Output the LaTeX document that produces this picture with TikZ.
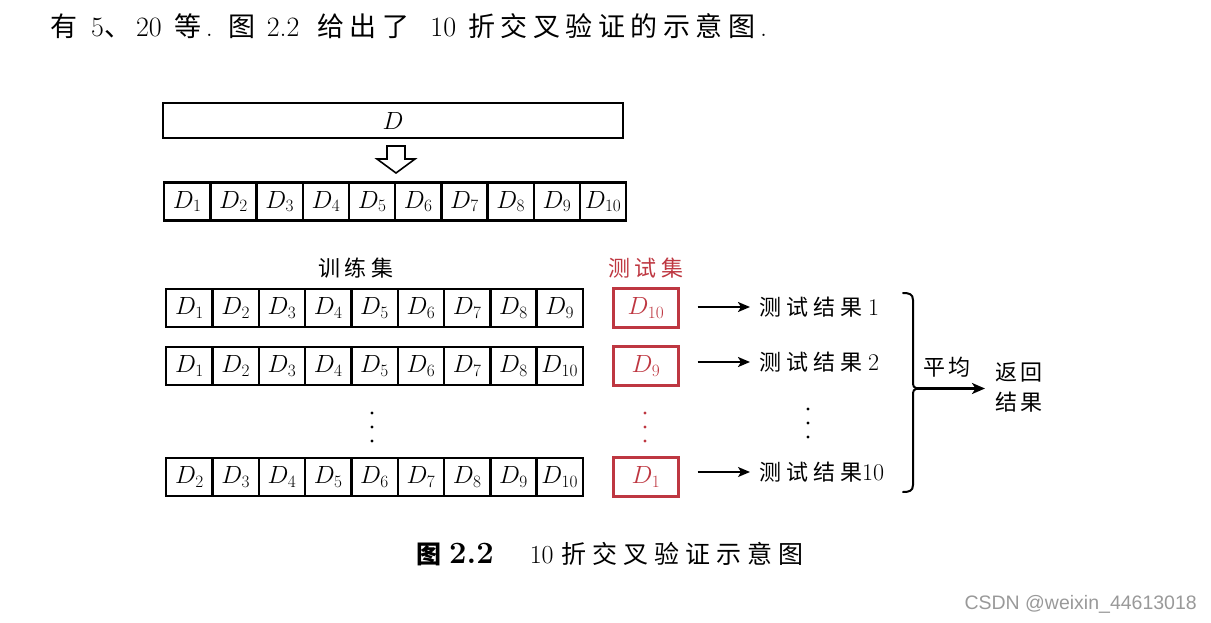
\documentclass[tikz,border=0pt]{standalone}
\usepackage{fontspec}
\newfontfamily\cjk{Noto Sans CJK SC}
\newfontfamily\wm{Liberation Sans}
\usetikzlibrary{decorations.pathreplacing,arrows.meta}
\makeatletter
\newcommand\spc[2]{\def\spc@k{#1}\@tfor\spc@c:=#2\do{\spc@c\kern\spc@k}\unkern}
\makeatother
\definecolor{testred}{RGB}{190,55,65}
\tikzset{
  cell/.style={draw, line width=2.4pt, minimum width=46.3pt, minimum height=38pt, inner sep=0pt, font=\fontsize{25}{25}\selectfont, anchor=west},
  tcell/.style={draw=testred, text=testred, line width=2.4pt, minimum width=65pt, minimum height=39pt, inner sep=0pt, font=\fontsize{25}{25}\selectfont},
  lab/.style={inner sep=0pt, font=\fontsize{22}{22}\selectfont\cjk},
  res/.style={lab, anchor=west},
  arr/.style={-{Stealth[length=12pt,width=10pt,inset=3pt]}, line width=2.2pt, shorten <=18pt, shorten >=9pt},
  vdot/.style={fill, radius=1.7pt},
}
\begin{document}
\begin{tikzpicture}[x=1pt,y=-1pt]
\useasboundingbox (0,0) rectangle (1211,622);
% top text
\node[anchor=base west, inner sep=0pt, font=\fontsize{28}{28}\selectfont] (top) at (50,36)
  {{\fontsize{27}{27}\selectfont\cjk 有}\kern14pt 5{\fontsize{27}{27}\selectfont\cjk 、}\kern5pt 20\kern13pt{\fontsize{27}{27}\selectfont\cjk 等}\kern4pt.\kern16pt{\fontsize{27}{27}\selectfont\cjk 图}\kern11pt 2.2\kern18pt{\fontsize{27}{27}\selectfont\cjk\spc{5.5pt}{给出了}}\kern21pt 10\kern12pt{\fontsize{27}{27}\selectfont\cjk\spc{5.5pt}{折交叉验证的示意图}}\kern5pt.};
% D box
\node[draw, line width=2.2pt, minimum width=460pt, minimum height=35pt, inner sep=0pt, font=\fontsize{25}{25}\selectfont] (D) at (393,120.5) {$D$};
% hollow arrow
\draw[line width=1.6pt, line join=miter] (387,146) -- (405,146) -- (405,159) -- (415,159) -- (396,173) -- (377,159) -- (387,159) -- cycle;
% split row
\foreach \i in {1,...,10} {
  \node[cell, minimum width=46.2pt] (s\i) at ({163+46.2*(\i-1)},201.5) {$D_{\i}$};
}
% labels
\node[lab] (train) at (356,268) {\spc{5pt}{训练集}};
\node[lab, text=testred] (test) at (646,268) {\spc{5pt}{测试集}};
% row 1
\foreach \i in {1,...,9} {
  \node[cell] (a\i) at ({165+46.3*(\i-1)},308) {$D_{\i}$};
}
% row 2
\foreach \i/\l in {1/1,2/2,3/3,4/4,5/5,6/6,7/7,8/8,9/10} {
  \node[cell] (b\i) at ({165+46.3*(\i-1)},366) {$D_{\l}$};
}
% row 4
\foreach \i/\l in {1/2,2/3,3/4,4/5,5/6,6/7,7/8,8/9,9/10} {
  \node[cell] (c\i) at ({165+46.3*(\i-1)},477) {$D_{\l}$};
}
% test boxes
\node[tcell] (t1) at (646,308) {$D_{10}$};
\node[tcell] (t2) at (646,366) {$D_{9}$};
\node[tcell] (t3) at (646,477) {$D_{1}$};
% vertical dots
\foreach \y in {413,427,441} {
  \fill[vdot] (372,\y) circle;
  \fill[vdot, testred] (645,\y) circle;
}
\foreach \y in {409,423,437} {
  \fill[vdot] (808,\y) circle;
}
% results
\node[res] (r1) at (759,307) {\spc{5pt}{测试结果}\kern6pt{\rmfamily\fontsize{24}{24}\selectfont 1}};
\node[res] (r2) at (759,362) {\spc{5pt}{测试结果}\kern6pt{\rmfamily\fontsize{24}{24}\selectfont 2}};
\node[res] (r3) at (759,472) {\spc{5pt}{测试结果}{\rmfamily\fontsize{24}{24}\selectfont 10}};
\draw[arr] (t1.east |- r1.west) -- (r1.west);
\draw[arr] (t2.east |- r2.west) -- (r2.west);
\draw[arr, line width=1.5pt] (t3.east |- r3.west) -- (r3.west);
% bracket
\coordinate (bt) at (903,293);
\coordinate (bb) at (903,492);
\coordinate (tip) at (917,388.5);
\draw[line width=2pt, line join=round, line cap=round]
  (bt) .. controls (909,293) and (913,294) .. (913,300) -- (913,382)
  .. controls (913,386) and (914,388.5) .. (tip)
  .. controls (914,388.5) and (913,391) .. (913,395) -- (913,485)
  .. controls (913,491) and (909,492) .. (bb);
\coordinate (out) at (985,388.5);
\draw[-{Stealth[length=13pt,width=11pt,inset=3.5pt]}, line width=2.4pt] (tip) -- (out);
\node[lab] (avg) at (947,367) {\spc{4pt}{平均}};
\node[lab] (ret1) at (1019,372) {\spc{4pt}{返回}};
\node[lab] (ret2) at (1019,402) {\spc{4pt}{结果}};
% caption
\node[anchor=base west, inner sep=0pt, font=\fontsize{26}{26}\selectfont] (cap) at (416,563)
  {{\fontsize{25}{25}\selectfont\cjk\bfseries 图}\kern8pt{\fontsize{31}{31}\selectfont\bfseries 2.2}\kern36pt 10\kern8pt{\fontsize{25}{25}\selectfont\cjk\spc{6pt}{折交叉验证示意图}}};
% watermark
\node[anchor=east, inner sep=0pt, text=black!40, font=\fontsize{19.5}{19.5}\selectfont\wm] (wmk) at (1197,604) {CSDN @weixin\_44613018};
\end{tikzpicture}
\end{document}
